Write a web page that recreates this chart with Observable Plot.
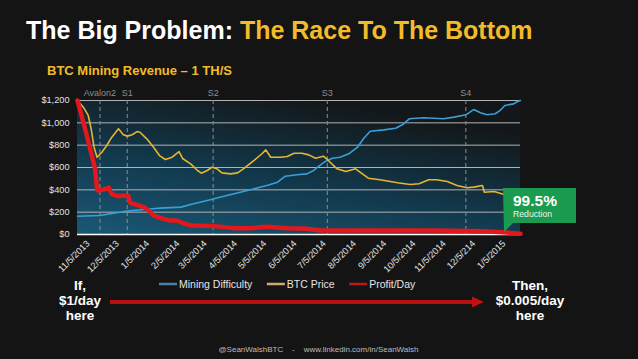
<!DOCTYPE html>
<html><head><meta charset="utf-8">
<script src="https://cdn.jsdelivr.net/npm/d3@7"></script>
<script src="https://cdn.jsdelivr.net/npm/@observablehq/plot@0.6"></script>
<style>
html,body{margin:0;padding:0;background:#141414;}
#wrap{position:relative;width:638px;height:359px;overflow:hidden;background:#141414;font-family:"Liberation Sans",Arial,Helvetica,sans-serif;}
#chart{position:absolute;left:0;top:85px;}
#overlay{position:absolute;left:0;top:0;pointer-events:none;}
</style></head><body>
<div id="wrap"><div id="chart"></div><svg id="overlay" width="638" height="359"></svg></div>
<script>
const seriesNames = ["Mining Difficulty", "BTC Price", "Profit/Day"];
const lineColors = ["#38a0d6", "#e6b531", "#e3171c"];
const swatchColors = ["#4d7fa2", "#d2a86e", "#b81b1b"];

const miningDifficulty = [["2013-10-25",164],["2013-11-17",170],["2013-12-01",191],["2013-12-15",209],["2014-01-01",224],["2014-01-18",236],["2014-02-08",245],["2014-02-21",275],["2014-03-07",304],["2014-03-27",349],["2014-04-10",379],["2014-04-24",409],["2014-05-07",439],["2014-05-18",468],["2014-05-26",522],["2014-06-07",535],["2014-06-17",543],["2014-06-24",573],["2014-06-28",603],["2014-07-06",654],["2014-07-13",683],["2014-07-21",692],["2014-07-30",723],["2014-08-08",782],["2014-08-14",857],["2014-08-21",925],["2014-09-04",937],["2014-09-16",952],["2014-09-23",982],["2014-09-30",1036],["2014-10-15",1045],["2014-11-04",1036],["2014-11-15",1051],["2014-11-27",1072],["2014-12-05",1119],["2014-12-12",1090],["2014-12-19",1072],["2014-12-27",1081],["2015-01-01",1110],["2015-01-06",1155],["2015-01-15",1170],["2015-01-19",1191],["2015-01-22",1200]];

const btcPrice = [["2013-10-25",1200],["2013-10-31",1140],["2013-11-05",1066],["2013-11-08",946],["2013-11-11",782],["2013-11-14",692],["2013-11-19",737],["2013-11-24",797],["2013-11-28",857],["2013-12-06",946],["2013-12-11",893],["2013-12-15",881],["2013-12-20",893],["2013-12-25",922],["2013-12-28",916],["2014-01-04",857],["2014-01-11",782],["2014-01-17",707],["2014-01-23",672],["2014-01-30",692],["2014-02-06",743],["2014-02-10",678],["2014-02-18",633],["2014-02-25",573],["2014-03-01",549],["2014-03-07",573],["2014-03-12",603],["2014-03-17",588],["2014-03-22",552],["2014-03-31",543],["2014-04-07",552],["2014-04-13",588],["2014-04-24",663],["2014-05-02",723],["2014-05-06",758],["2014-05-11",692],["2014-05-21",692],["2014-05-28",698],["2014-06-04",728],["2014-06-12",728],["2014-06-19",713],["2014-06-26",683],["2014-07-04",701],["2014-07-09",663],["2014-07-18",588],["2014-07-27",564],["2014-08-06",588],["2014-08-13",543],["2014-08-19",504],["2014-08-31",490],["2014-09-18",463],["2014-10-01",448],["2014-10-10",454],["2014-10-20",490],["2014-10-28",490],["2014-11-08",475],["2014-11-18",439],["2014-11-28",418],["2014-12-05",424],["2014-12-14",439],["2014-12-16",379],["2014-12-26",385],["2015-01-01",370],["2015-01-06",355],["2015-01-22",320]];

const profitPerDay = [["2013-10-25",1200],["2013-10-31",1006],["2013-11-07",767],["2013-11-12",588],["2013-11-14",405],["2013-11-15",394],["2013-11-21",403],["2013-11-24",412],["2013-11-26",420],["2013-11-29",364],["2013-12-05",343],["2013-12-13",349],["2013-12-16",345],["2013-12-18",284],["2013-12-25",266],["2014-01-01",245],["2014-01-06",215],["2014-01-11",170],["2014-01-21",140],["2014-01-28",125],["2014-02-04",125],["2014-02-09",105],["2014-02-18",81],["2014-03-14",75],["2014-04-03",57],["2014-04-20",57],["2014-05-07",69],["2014-05-28",57],["2014-06-17",51],["2014-07-01",36],["2014-08-18",36],["2014-10-25",36],["2014-12-15",30],["2015-01-04",21],["2015-01-22",6]];

const eventDates = ["2013-11-17", "2013-12-15", "2014-03-13", "2014-07-08", "2014-11-27"];
const eventNames = ["Avalon2", "S1", "S2", "S3", "S4"];

const yTicks = [0, 200, 400, 600, 800, 1000, 1200];
const xTickDates = ["2013-11-05","2013-12-05","2014-01-05","2014-02-05","2014-03-05","2014-04-05","2014-05-05","2014-06-05","2014-07-05","2014-08-05","2014-09-05","2014-10-05","2014-11-05","2014-12-05","2015-01-05"];
const xTickLabels = ["11/5/2013","12/5/2013","1/5/2014","2/5/2014","3/5/2014","4/5/2014","5/5/2014","6/5/2014","7/5/2014","8/5/2014","9/5/2014","10/5/2014","11/5/2014","12/5/214","1/5/2015"];
const xDomain = ["2013-10-25", "2015-01-22"];

const titleWhite = "The Big Problem: ";
const titleGold = "The Race To The Bottom";
const subtitle = "BTC Mining Revenue \u2013 1 TH/S";
const calloutValue = "99.5%";
const calloutLabel = "Reduction";
const leftNote = ["If,", "$1/day", "here"];
const rightNote = ["Then,", "$0.005/day", "here"];
const footer = "@SeanWalshBTC    -    www.linkedin.com/in/SeanWalsh";

const FONT = '"Liberation Sans", Arial, Helvetica, sans-serif';
const parse = d3.utcParse("%Y-%m-%d");
const toRows = arr => arr.map(([d, v]) => ({date: parse(d), value: v}));
const eventRows = eventDates.map((d, i) => ({date: parse(d), name: eventNames[i]}));
const labelByTime = new Map(xTickDates.map((d, i) => [+parse(d), xTickLabels[i]]));

const W = 638, H = 190, mT = 15, mB = 41, mL = 77, mR = 118;

const chart = Plot.plot({
  width: W, height: H,
  marginTop: mT, marginBottom: mB, marginLeft: mL, marginRight: mR,
  style: {background: "transparent", color: "#e2e2e2", fontFamily: FONT, fontSize: "9.2px", overflow: "visible"},
  x: {type: "utc", domain: xDomain.map(parse), ticks: xTickDates.map(parse), tickFormat: d => labelByTime.get(+d), tickRotate: -45, tickSize: 0, tickPadding: 7.5, label: null},
  y: {domain: [0, 1200], ticks: yTicks, tickFormat: d => "$" + d3.format(",")(d), tickSize: 0, tickPadding: 8, label: null},
  marks: [
    Plot.ruleY(yTicks.filter(v => v > 0), {stroke: "#b3b3b3", strokeWidth: 1}),
    Plot.ruleX(eventRows, {x: "date", stroke: "#8d8d8d", strokeDasharray: "4,3", strokeWidth: 1}),
    Plot.text(eventRows, {x: "date", text: "name", frameAnchor: "top", lineAnchor: "middle", dy: -7, fill: "#8d8d8d", fontSize: 9}),
    Plot.ruleY([0], {stroke: "#ffffff", strokeWidth: 1.5}),
    Plot.line(toRows(miningDifficulty), {x: "date", y: "value", stroke: lineColors[0], strokeWidth: 1.6}),
    Plot.line(toRows(btcPrice), {x: "date", y: "value", stroke: lineColors[1], strokeWidth: 1.6}),
    Plot.line(toRows(profitPerDay), {x: "date", y: "value", stroke: lineColors[2], strokeWidth: 4.5})
  ]
});

// gradient plot background
(function () {
  const svg = chart.tagName.toLowerCase() === "svg" ? chart : chart.querySelector("svg");
  const s = d3.select(svg);
  const defs = s.insert("defs", ":first-child");
  const g = defs.append("linearGradient").attr("id", "plotbg").attr("x1", 0).attr("y1", 1).attr("x2", 0.55).attr("y2", 0);
  g.append("stop").attr("offset", 0).attr("stop-color", "#1a5876");
  g.append("stop").attr("offset", 0.5).attr("stop-color", "#12384b");
  g.append("stop").attr("offset", 1).attr("stop-color", "#131719");
  const firstG = Array.from(svg.children).find(n => !["style", "defs"].includes(n.tagName.toLowerCase()));
  const rect = document.createElementNS("http://www.w3.org/2000/svg", "rect");
  rect.setAttribute("x", mL); rect.setAttribute("y", mT);
  rect.setAttribute("width", W - mL - mR); rect.setAttribute("height", H - mT - mB);
  rect.setAttribute("fill", "url(#plotbg)");
  svg.insertBefore(rect, firstG);
})();

document.getElementById("chart").appendChild(chart);

// overlay annotations
const ov = d3.select("#overlay").style("font-family", FONT);
const t = ov.append("text").attr("x", 26).attr("y", 39).attr("font-size", 25).attr("font-weight", "bold").style("white-space", "pre");
t.append("tspan").attr("fill", "#ffffff").text(titleWhite);
t.append("tspan").attr("fill", "#f2bb2b").text(titleGold);
ov.append("text").attr("x", 47).attr("y", 75).attr("font-size", 13).attr("font-weight", "bold").attr("fill", "#f2bb2b").text(subtitle);

// legend
let lx = 159;
seriesNames.forEach((name, i) => {
  ov.append("line").attr("x1", lx).attr("x2", lx + 18).attr("y1", 284).attr("y2", 284).attr("stroke", swatchColors[i]).attr("stroke-width", 2.5);
  const tx = ov.append("text").attr("x", lx + 20).attr("y", 287.8).attr("font-size", 10.5).attr("fill", "#e4e4e4").text(name);
  lx = lx + 20 + tx.node().getComputedTextLength() + 14.5;
});

// callout
ov.append("path").attr("d", "M503,188H576V223H513L504,232Z").attr("fill", "#1b9b50");
ov.append("text").attr("x", 513).attr("y", 206).attr("font-size", 15.5).attr("font-weight", "bold").attr("fill", "#fff").text(calloutValue);
ov.append("text").attr("x", 513).attr("y", 217).attr("font-size", 8.7).attr("fill", "#eaf6ee").text(calloutLabel);

// bottom notes
leftNote.forEach((s, i) => ov.append("text").attr("x", 80).attr("y", 290 + i * 15).attr("text-anchor", "middle").attr("font-size", 13.5).attr("font-weight", "bold").attr("fill", "#fff").text(s));
rightNote.forEach((s, i) => ov.append("text").attr("x", 530).attr("y", 289.5 + i * 15).attr("text-anchor", "middle").attr("font-size", 13.5).attr("font-weight", "bold").attr("fill", "#fff").text(s));

// arrow
ov.append("line").attr("x1", 110).attr("x2", 474).attr("y1", 302).attr("y2", 302).attr("stroke", "#b80f0f").attr("stroke-width", 4);
ov.append("path").attr("d", "M472,296.5L484,302L472,307.5Z").attr("fill", "#c01010");

// footer
ov.append("text").attr("x", 318.5).attr("y", 352).attr("text-anchor", "middle").attr("font-size", 8).attr("fill", "#bdbdbd").style("white-space", "pre").text(footer);
</script>
</body></html>
